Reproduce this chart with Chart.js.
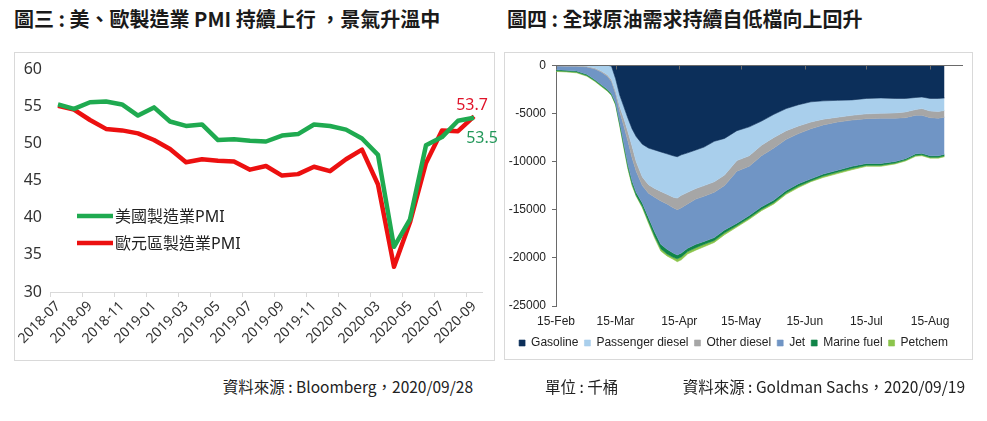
<!DOCTYPE html>
<html lang="zh-Hant">
<head>
<meta charset="utf-8">
<script src="https://cdn.jsdelivr.net/npm/chart.js@4.4.1/dist/chart.umd.min.js"></script>
<style>
  html, body { margin: 0; padding: 0; background: #fff; }
  body { width: 987px; height: 421px; position: relative; overflow: hidden;
         font-family: "Noto Sans CJK TC", "Noto Sans", sans-serif; color: #1a1a1a; }
  .title { position: absolute; top: 5px; font-size: 20px; font-weight: 700; line-height: 28px; white-space: nowrap; }
  .box { position: absolute; border: 1px solid #d9d9d9; box-sizing: border-box; }
  .note { position: absolute; top: 373px; font-size: 15.5px; line-height: 26px; white-space: nowrap; color: #222; }
  canvas { position: absolute; }
</style>
</head>
<body>
<div class="title" style="left:14px">圖三 : 美、歐製造業 PMI 持續上行 ，景氣升溫中</div>
<div class="title" style="left:507px">圖四 : 全球原油需求持續自低檔向上回升</div>

<div class="box" style="left:14px; top:52px; width:481px; height:309px"></div>
<div class="box" style="left:504px; top:52px; width:469px; height:308px"></div>

<canvas id="pmiChart" width="492" height="308" style="left:14px; top:52px"></canvas>
<canvas id="oilChart" width="468" height="307" style="left:504px; top:52px"></canvas>

<div class="note" style="right:514px">資料來源 : Bloomberg，2020/09/28</div>
<div class="note" style="left:545px">單位 : 千桶</div>
<div class="note" style="right:22px">資料來源 : Goldman Sachs，2020/09/19</div>

<script>
// ---- 圖三 data ----
const months = ['2018-07','2018-08','2018-09','2018-10','2018-11','2018-12',
  '2019-01','2019-02','2019-03','2019-04','2019-05','2019-06','2019-07','2019-08',
  '2019-09','2019-10','2019-11','2019-12','2020-01','2020-02','2020-03','2020-04',
  '2020-05','2020-06','2020-07','2020-08','2020-09'];
const usPmi = [55.3, 54.7, 55.6, 55.7, 55.3, 53.8, 54.9, 53.0, 52.4, 52.6, 50.5, 50.6, 50.4, 50.3,
  51.1, 51.3, 52.6, 52.4, 51.9, 50.7, 48.5, 36.1, 39.8, 49.8, 50.9, 53.1, 53.5];
const euPmi = [55.1, 54.6, 53.2, 52.0, 51.8, 51.4, 50.5, 49.3, 47.5, 47.9, 47.7, 47.6, 46.5, 47.0,
  45.7, 45.9, 46.9, 46.3, 47.9, 49.2, 44.5, 33.4, 39.4, 47.4, 51.8, 51.7, 53.7];
const pmiTicks = [30, 35, 40, 45, 50, 55, 60];

// ---- 圖四 data (千桶, days after 15-Feb) ----
const days = [0, 5, 10, 15, 19, 22, 25, 27, 29, 31, 33, 35, 37, 39, 42, 45, 48, 51, 54, 57,
  59, 61, 64, 68, 72, 77, 82, 88, 94, 100, 106, 112, 118, 124, 130, 137, 144, 151, 158, 165,
  170, 175, 178, 182, 186, 189];
const gasoline = [0, 0, 0, 0, 0, 0, 0, -100, -1400, -3100, -4300, -5500, -6600, -7400, -8200,
  -8600, -8800, -9000, -9200, -9400, -9500, -9300, -9100, -8800, -8500, -7900, -7600, -6800,
  -6400, -5800, -5100, -4500, -4100, -3800, -3700, -3650, -3600, -3450, -3400, -3450, -3450,
  -3350, -3300, -3450, -3450, -3400];
const passengerDiesel = [-30, -30, -40, -100, -300, -600, -1000, -1400, -1300, -1200, -1200,
  -1400, -1800, -2600, -3400, -3800, -4000, -4100, -4200, -4300, -4300, -4200, -4100, -4000,
  -4000, -4200, -3800, -3100, -3000, -2500, -2400, -2300, -2200, -2100, -1900, -1750, -1600,
  -1600, -1600, -1500, -1400, -1250, -1200, -1300, -1350, -1300];
const otherDiesel = [-60, -70, -70, -80, -100, -100, -150, -200, -300, -500, -800, -1000, -1200,
  -1000, -900, -900, -900, -1000, -1000, -1100, -1200, -1300, -1200, -1100, -1100, -1100, -1100,
  -1100, -1100, -1100, -1100, -900, -800, -700, -600, -500, -500, -500, -500, -550, -600, -600,
  -700, -700, -700, -700];
const jet = [-380, -420, -490, -770, -1100, -1300, -1350, -1250, -900, -1100, -1800, -2400, -2400,
  -2200, -1800, -2500, -3600, -4500, -4700, -4700, -4700, -4700, -4600, -4700, -4700, -4700, -4600,
  -5400, -5100, -5300, -5400, -5300, -5200, -5200, -5100, -5000, -4800, -4650, -4700, -4500, -4250,
  -4000, -3950, -3950, -3900, -3850];
const marineFuel = [-100, -100, -110, -110, -120, -120, -120, -130, -150, -250, -300, -300, -300,
  -300, -350, -400, -450, -450, -500, -450, -400, -400, -350, -350, -300, -300, -300, -250, -250,
  -250, -250, -250, -250, -200, -200, -200, -200, -180, -180, -150, -150, -150, -150, -150, -150, -150];
const petchem = [-80, -80, -80, -80, -80, -80, -80, -70, -100, -150, -200, -200, -200, -100, -150,
  -200, -200, -250, -200, -200, -300, -300, -250, -250, -250, -200, -200, -150, -150, -150, -150,
  -150, -150, -100, -150, -150, -150, -120, -120, -100, -100, -100, -100, -100, -100, -100];
const layerNames = ['Gasoline', 'Passenger diesel', 'Other diesel', 'Jet', 'Marine fuel', 'Petchem'];
const tickDays = [0, 29, 60, 90, 121, 151, 182];
const tickLabels = ['15-Feb', '15-Mar', '15-Apr', '15-May', '15-Jun', '15-Jul', '15-Aug'];

const cjk = '"Noto Sans", "Noto Sans CJK TC", sans-serif';
const arial = '"Liberation Sans", Arial, sans-serif';

// legend drawn inside the plot, and the two end-value labels
const pmiDecor = {
  id: 'pmiDecor',
  afterDatasetsDraw(chart) {
    const ctx = chart.ctx;
    const legendPos = [{ y: 164 }, { y: 191 }];
    ctx.save();
    ctx.font = '16px ' + cjk;
    ctx.textBaseline = 'middle';
    chart.data.datasets.forEach((ds, i) => {
      const y = legendPos[i].y;
      ctx.strokeStyle = ds.borderColor;
      ctx.lineWidth = 4.5;
      ctx.beginPath(); ctx.moveTo(63, y); ctx.lineTo(99, y); ctx.stroke();
      ctx.fillStyle = '#222';
      ctx.textAlign = 'left';
      ctx.fillText(ds.label, 101, y + 1);

      const meta = chart.getDatasetMeta(i);
      const pt = meta.data[meta.data.length - 1];
      const val = ds.data[ds.data.length - 1];
      const off = ds.endLabel;
      ctx.fillStyle = off.color;
      ctx.textAlign = 'center';
      ctx.fillText(val.toFixed(1), pt.x + off.dx, pt.y + off.dy);
    });
    ctx.restore();
  }
};

new Chart(document.getElementById('pmiChart'), {
  type: 'line',
  data: {
    labels: months,
    datasets: [
      { label: '美國製造業PMI', data: usPmi, borderColor: '#1faa50', borderWidth: 4.5,
        pointRadius: 0, tension: 0, borderJoinStyle: 'round',
        endLabel: { dx: 8, dy: 21, color: '#23985a' } },
      { label: '歐元區製造業PMI', data: euPmi, borderColor: '#ec1010', borderWidth: 4.5,
        pointRadius: 0, tension: 0, borderJoinStyle: 'round',
        endLabel: { dx: -2, dy: -11, color: '#e0142a' } }
    ]
  },
  options: {
    responsive: false,
    animation: false,
    layout: { padding: { left: 0, right: 24, top: 15, bottom: 0 } },
    plugins: { legend: { display: false }, tooltip: { enabled: false } },
    scales: {
      x: {
        offset: true,
        grid: { offset: true, drawOnChartArea: false, tickLength: 5,
                color: c => (c.index % 2 === 0 ? '#d9d9d9' : 'rgba(0,0,0,0)') },
        border: { color: '#d9d9d9' },
        ticks: { autoSkip: false, maxRotation: 45, minRotation: 45, padding: 1,
                 color: '#333', font: { family: cjk, size: 14 },
                 callback: (v, i) => (i % 2 === 0 ? months[i] : '') },
        afterFit: s => { s.height = 68; }
      },
      y: {
        min: 30, max: 60,
        afterBuildTicks: s => { s.ticks = pmiTicks.map(v => ({ value: v })); },
        ticks: { padding: 8, color: '#333', font: { family: cjk, size: 16 } },
        grid: { display: false, drawTicks: false },
        border: { display: false },
        afterFit: s => { s.width = 36; }
      }
    }
  },
  plugins: [pmiDecor]
});

// x axis line sits on the zero line with ticks pointing down
const zeroLine = {
  id: 'zeroLine',
  afterDatasetsDraw(chart) {
    const { ctx, chartArea, scales } = chart;
    const y0 = Math.round(scales.y.getPixelForValue(0)) + 0.5;
    ctx.save();
    ctx.strokeStyle = '#6a6a6a';
    ctx.lineWidth = 1;
    ctx.beginPath();
    ctx.moveTo(chartArea.left, y0); ctx.lineTo(chartArea.right, y0);
    tickDays.forEach(d => {
      const x = Math.round(scales.x.getPixelForValue(d)) + 0.5;
      ctx.moveTo(x, y0); ctx.lineTo(x, y0 + 4);
    });
    ctx.stroke();
    ctx.restore();
  }
};

const layerColors = ['#0c2f5a', '#a9cfec', '#a6a6a6', '#7095c5', '#108548', '#8cc54c'];
const layers = [gasoline, passengerDiesel, otherDiesel, jet, marineFuel, petchem];

new Chart(document.getElementById('oilChart'), {
  type: 'line',
  data: {
    datasets: layers.map((vals, i) => ({
      label: layerNames[i],
      data: days.map((d, k) => ({ x: d, y: vals[k] })),
      backgroundColor: layerColors[i],
      borderColor: layerColors[i],
      borderWidth: 0.6,
      pointRadius: 0,
      tension: 0,
      fill: i === 0 ? 'origin' : '-1'
    }))
  },
  options: {
    responsive: false,
    animation: false,
    layout: { padding: { left: 0, right: 9, top: 12, bottom: 0 } },
    plugins: {
      legend: { position: 'bottom',
        labels: { boxWidth: 6, boxHeight: 6, padding: 6, color: '#222',
                  font: { family: arial, size: 12 } } },
      tooltip: { enabled: false }
    },
    scales: {
      x: {
        type: 'linear', min: 0, max: 198,
        afterBuildTicks: s => { s.ticks = tickDays.map(v => ({ value: v })); },
        grid: { display: false, drawTicks: false },
        border: { display: false },
        ticks: { padding: 8, color: '#222', font: { family: arial, size: 12 },
                 callback: v => tickLabels[tickDays.indexOf(v)] },
        afterFit: s => { s.height = 25; }
      },
      y: {
        stacked: true, min: -25000, max: 0,
        ticks: { stepSize: 5000, padding: 6, color: '#222', font: { family: arial, size: 12 },
                 callback: v => String(v) },
        grid: { drawOnChartArea: false, tickLength: 4, color: '#6a6a6a' },
        border: { color: '#6a6a6a' },
        afterFit: s => { s.width = 52; }
      }
    }
  },
  plugins: [zeroLine]
});
</script>
</body>
</html>
